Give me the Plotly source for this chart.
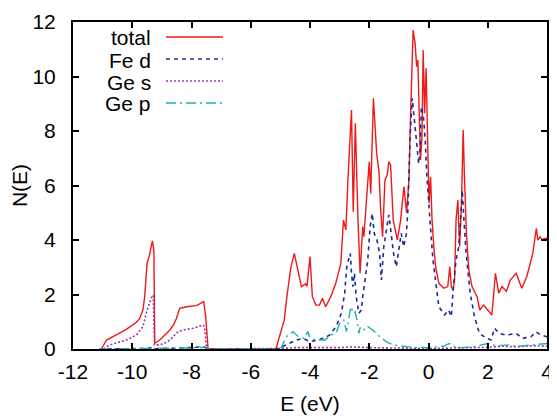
import plotly.graph_objects as go

# ---------------- data ----------------
total_E = [-11.1, -11.04, -10.87, -10.65, -10.4, -10.2, -10.0, -9.86, -9.75, -9.64, -9.58, -9.5, -9.43,
           -9.32, -9.27, -9.24, -9.07, -8.9, -8.73, -8.6, -8.51, -8.4, -8.17, -7.83, -7.67, -7.59, -7.52,
           -7.44, -5.15, -5.05, -4.95, -4.87, -4.78, -4.65, -4.53, -4.42, -4.29, -4.2, -4.15, -4.1, -4.0,
           -3.92, -3.8, -3.68, -3.58, -3.47, -3.3, -3.13, -2.96, -2.87, -2.79, -2.72, -2.6, -2.54, -2.47,
           -2.38, -2.31, -2.22, -2.18, -2.11, -2.0, -1.95, -1.86, -1.75, -1.67, -1.62, -1.55, -1.47, -1.39,
           -1.34, -1.28, -1.19, -1.05, -0.94, -0.83, -0.74, -0.66, -0.61, -0.52, -0.45, -0.4, -0.36, -0.31,
           -0.27, -0.22, -0.18, -0.13, -0.08, -0.02, 0.02, 0.07, 0.12, 0.18, 0.24, 0.35, 0.52, 0.65, 0.72,
           0.77, 0.83, 0.88, 0.93, 0.99, 1.05, 1.11, 1.17, 1.21, 1.28, 1.36, 1.47, 1.64, 1.73, 1.86, 2.0,
           2.14, 2.26, 2.37, 2.48, 2.63, 2.76, 2.96, 3.15, 3.32, 3.52, 3.64, 3.69, 3.77, 3.83, 3.9, 4.0]
total_N = [0, 0, 0.33, 0.47, 0.6, 0.72, 0.86, 0.98, 1.12, 1.43, 1.92, 3.14, 3.39,
           3.97, 3.6, 0.21, 0.33, 0.5, 0.70, 0.9, 1.12, 1.49, 1.55, 1.59, 1.68, 1.74, 1.19,
           0, 0, 0.4, 0.75, 1.06, 1.92, 2.97, 3.51, 2.9, 2.29, 2.35, 2.4, 2.3, 3.39,
           1.92, 1.61, 1.61, 1.86, 1.55, 1.92, 2.41, 3.14, 4.73, 4.37, 6.2, 8.77, 5.04, 8.28,
           4.73, 2.78, 4.49, 4.12, 5.22, 6.87, 5.71, 9.2, 7.18, 6.51, 5.22, 4.12, 6.2, 6.39,
           6.87, 6.75, 4.73, 4.0, 4.73, 5.96, 5.0, 6.2, 8.4, 11.7, 11.2, 10.36, 10.6, 7.79,
           6.94, 7.79, 10.97, 8.65, 10.3, 7.18, 5.35, 6.32, 4.73, 3.75, 3.02, 2.41, 2.23, 2.29, 3.02,
           2.29, 2.17, 2.53, 4.73, 5.47, 3.75, 5.22, 8.04, 6.44, 4.24, 2.9, 2.29, 1.92, 1.43, 1.61, 1.43,
           1.25, 2.78, 2.05, 2.29, 2.11, 2.53, 2.78, 2.23, 2.66, 3.51, 4.43, 4.0, 4.12, 4.0, 4.06, 4.06]

fed_E = [-11.1, -9.5, -9.3, -9.25, -8.5, -8.0, -7.6, -7.5, -7.44, -5.15, -5.0, -4.8, -4.6, -4.46, -4.24,
         -4.01, -3.73, -3.56, -3.34, -3.12, -2.94, -2.83, -2.76, -2.69, -2.64, -2.6, -2.55, -2.5, -2.44,
         -2.35, -2.27, -2.22, -2.12, -2.05, -1.97, -1.9, -1.83, -1.74, -1.65, -1.59, -1.51, -1.41, -1.34,
         -1.26, -1.18, -1.09, -1.0, -0.92, -0.84, -0.75, -0.7, -0.62, -0.55, -0.47, -0.39, -0.33, -0.28,
         -0.24, -0.17, -0.11, -0.06, 0.01, 0.09, 0.15, 0.24, 0.35, 0.54, 0.68, 0.77, 0.84, 0.93, 1.02,
         1.08, 1.14, 1.19, 1.27, 1.41, 1.55, 1.72, 1.97, 2.11, 2.23, 2.39, 2.62, 2.96, 3.18, 3.46, 3.63,
         3.8, 4.0]
fed_N = [0, 0.02, 0.05, 0.01, 0.03, 0.06, 0.08, 0.04, 0, 0, 0.05, 0.15, 0.25, 0.33, 0.39,
         0.27, 0.33, 0.39, 0.51, 0.82, 1.31, 2.04, 3.02, 3.27, 3.51, 2.78, 2.29, 2.78, 1.92,
         1.31, 1.43, 1.92, 2.66, 3.27, 4.49, 4.98, 4.24, 4.0, 3.51, 2.53, 3.75, 4.49, 4.92,
         4.24, 3.51, 3.02, 3.63, 4.24, 3.75, 4.2, 5.0, 7.79, 9.2, 8.4, 7.42, 6.8, 7.42,
         8.89, 8.53, 7.67, 6.44, 5.22, 4.12, 3.27, 2.41, 1.55, 1.25, 1.43, 1.19, 2.29, 3.27, 3.75,
         4.73, 5.83, 4.86, 3.51, 2.04, 1.19, 0.57, 0.39, 0.33, 0.76, 0.57, 0.51, 0.57, 0.39, 0.45, 0.63,
         0.51, 0.45]

ges_E = [-11.1, -10.97, -10.76, -10.5, -10.2, -9.86, -9.64, -9.5, -9.41, -9.32, -9.29, -9.25, -9.07,
         -8.9, -8.73, -8.6, -8.45, -8.28, -7.95, -7.61, -7.56, -7.49, -5.15, -5.0, -4.5, -3.0, -2.6,
         -2.0, 0.0, 1.0, 2.0, 2.5, 3.0, 3.5, 4.0]
ges_N = [0, 0, 0.15, 0.24, 0.33, 0.51, 0.82, 1.43, 1.68, 1.98, 1.95, 0.15, 0.15,
         0.22, 0.33, 0.48, 0.64, 0.7, 0.76, 0.88, 0.82, 0, 0, 0.02, 0.05, 0.05, 0.08,
         0.05, 0.02, 0.04, 0.06, 0.1, 0.08, 0.12, 0.1]

gep_E = [-11.1, -10.0, -9.3, -8.0, -7.6, -7.5, -7.44, -5.15, -4.97, -4.8, -4.57, -4.4, -4.2, -4.07,
         -4.0, -3.77, -3.5, -3.28, -3.1, -2.98, -2.86, -2.77, -2.71, -2.64, -2.6, -2.55, -2.48, -2.41,
         -2.35, -2.3, -2.15, -2.04, -1.88, -1.65, -1.43, -1.2, -0.86, -0.5, 0.0, 0.5, 0.7, 0.9, 1.1,
         1.5, 2.0, 2.3, 2.7, 3.0, 3.5, 4.0]
gep_N = [0, 0.01, 0.02, 0.04, 0.06, 0.03, 0, 0, 0.05, 0.45, 0.64, 0.45, 0.39, 0.64,
         0.39, 0.33, 0.33, 0.51, 0.64, 1.0, 1.06, 0.64, 1.06, 1.43, 1.55, 1.31, 1.37, 1.06,
         0.57, 0.82, 0.7, 0.82, 0.7, 0.45, 0.27, 0.15, 0.1, 0.06, 0.05, 0.1, 0.2, 0.08, 0.05,
         0.08, 0.2, 0.12, 0.15, 0.1, 0.15, 0.2]

series_names = ["total", "Fe d", "Ge s", "Ge p"]
x_ticks = [-12, -10, -8, -6, -4, -2, 0, 2, 4]
y_ticks = [0, 2, 4, 6, 8, 10, 12]

# ---------------- styles ----------------
colors = ["#f01818", "#1c2c96", "#a030b0", "#20b0b0"]
dashes = ["solid", "4px,4px", "2px,2px", "10px,4px,2px,4px"]
widths = [1.4, 1.6, 1.6, 1.4]
FONT = "Liberation Sans, Arial, sans-serif"
FS = 21

fig = go.Figure()
data = [(total_E, total_N), (fed_E, fed_N), (ges_E, ges_N), (gep_E, gep_N)]
for i, (xs, ys) in enumerate(data):
    fig.add_trace(go.Scatter(x=xs, y=ys, mode="lines", name=series_names[i],
                             line=dict(color=colors[i], width=widths[i], dash=dashes[i]),
                             showlegend=False))

# page has an 8px body margin; figure sized to fit the 557x416 window
OFF = 8
W, H = 557 - OFF, 416 - OFF
# plot area in page pixels
PL, PR, PT, PB = 73, 547, 22, 349
L, R, T, B = PL - OFF, W - (PR - OFF), PT - OFF, H - (PB - OFF)
pw, ph = PR - PL, PB - PT

def px_x(px):
    return (px - PL) / pw

def px_y(py):
    return (PB - py) / ph

legend_y = [38, 60, 82, 104]
annotations = []
shapes = []
for i, name in enumerate(series_names):
    yp = px_y(legend_y[i])
    annotations.append(dict(x=px_x(153), y=yp, xref="paper", yref="paper", text=name,
                            showarrow=False, xanchor="right", yanchor="middle",
                            font=dict(family=FONT, size=FS, color="black")))
    shapes.append(dict(type="line", xref="paper", yref="paper", x0=px_x(166), x1=px_x(223),
                       y0=px_y(legend_y[i] - 1), y1=px_y(legend_y[i] - 1),
                       line=dict(color=colors[i], width=widths[i], dash=dashes[i])))

axis_common = dict(showline=True, linecolor="black", linewidth=2, mirror="ticks",
                   ticks="inside", ticklen=6, tickwidth=1.5, tickcolor="black",
                   showgrid=False, zeroline=False, automargin=False,
                   tickfont=dict(family=FONT, size=FS, color="black"))

fig.update_layout(
    width=W, height=H,
    margin=dict(l=L, r=R, t=T, b=B, pad=0, autoexpand=False),
    paper_bgcolor="white", plot_bgcolor="white",
    xaxis=dict(range=[-12, 4], tickvals=x_ticks, ticktext=[str(v) for v in x_ticks],
               title=dict(text="E (eV)", font=dict(family=FONT, size=FS, color="black"), standoff=14),
               ticklabelstandoff=3, **axis_common),
    yaxis=dict(range=[0, 12], tickvals=y_ticks, ticktext=[str(v) for v in y_ticks],
               title=dict(text="N(E)", font=dict(family=FONT, size=FS, color="black"), standoff=2),
               ticklabelstandoff=11, **axis_common),
    annotations=annotations, shapes=shapes,
)

fig.write_html("out.html")
